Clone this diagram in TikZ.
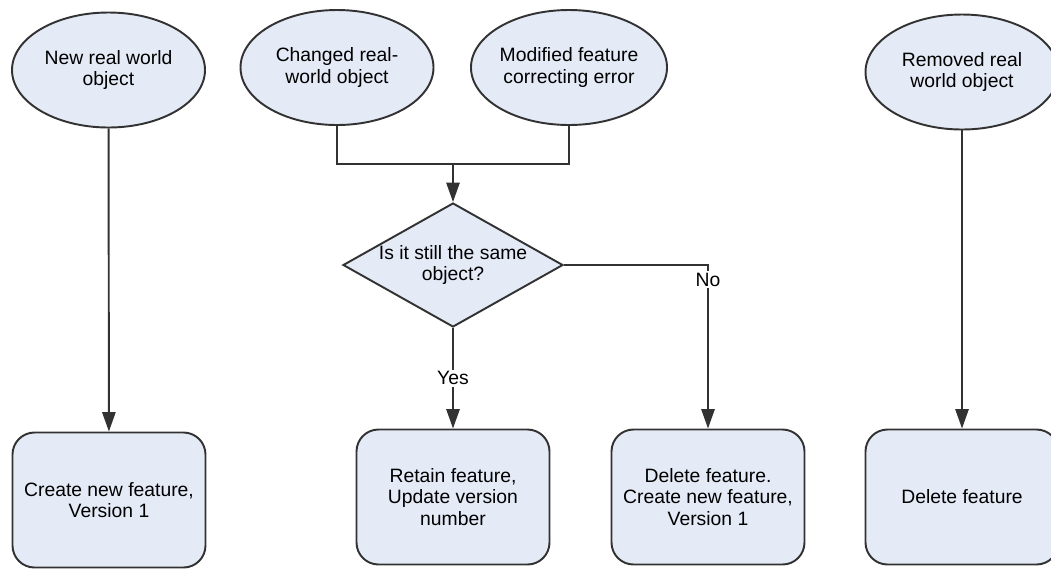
\documentclass[tikz,border=0pt]{standalone}
\usepackage{fontspec}
\setmainfont{Liberation Sans}
\usepackage{tikz}
\usetikzlibrary{arrows.meta,shapes.geometric}
\usepackage{xcolor}
\definecolor{boxfill}{RGB}{228,234,246}
\definecolor{boxline}{RGB}{50,50,50}

\begin{document}
\begin{tikzpicture}

\tikzset{event/.style = {shape=ellipse,draw=boxline,fill=boxfill,line width=1.1pt,minimum width=3.86cm,minimum height=2.3cm,inner sep=0pt,align=center,font=\fontsize{11}{12}\selectfont}}
\tikzset{decide/.style = {shape=diamond,aspect=1.8,draw=boxline,fill=boxfill,line width=1.1pt,minimum width=4.4cm,minimum height=2.48cm,inner sep=0pt,align=center,font=\fontsize{11}{12}\selectfont}}
\tikzset{action/.style = {shape=rectangle,rounded corners=0.44cm,draw=boxline,fill=boxfill,line width=1.1pt,minimum width=3.86cm,minimum height=2.7cm,align=center,font=\fontsize{11}{12}\selectfont}}
\tikzset{edge/.style = {draw=boxline,line width=1.1pt,> = {Triangle[length=11pt,width=7.5pt]}}}
\tikzset{lbl/.style = {fill=white,inner sep=1pt,font=\fontsize{11}{12}\selectfont}}

\useasboundingbox (0,0) rectangle (21.02,-11.36);

\node[event] (new) at (2.17,-1.40) {New real world\\object};
\node[event] (changed) at (6.74,-1.35) {Changed real-\\world object};
\node[event] (modified) at (11.38,-1.35) {Modified feature\\correcting error};
\node[event] (removed) at (19.24,-1.44) {Removed real\\world object};
\coordinate (join) at (9.06,-3.28);
\node[decide] (same) at (9.06,-5.30) {Is it still the same\\object?};
\node[action] (create) at (2.18,-10.0) {Create new feature,\\Version 1};
\node[action] (retain) at (9.06,-9.94) {Retain feature,\\Update version\\number};
\node[action] (recreate) at (14.16,-9.94) {Delete feature.\\Create new feature,\\Version 1};
\node[action] (delete) at (19.24,-9.94) {Delete feature};

%edges
\draw[edge,->] (new) to (create);
\draw[edge] (changed.south) |- (join) -| (modified.south);
\draw[edge,->] (join) to (same);
\draw[edge,->] (same) to node[lbl] {Yes} (retain);
\draw[edge,->] (same.east) -| node[lbl,pos=0.545] {No} (recreate.north);
\draw[edge,->] (removed) to (delete);
\end{tikzpicture}
\end{document}
